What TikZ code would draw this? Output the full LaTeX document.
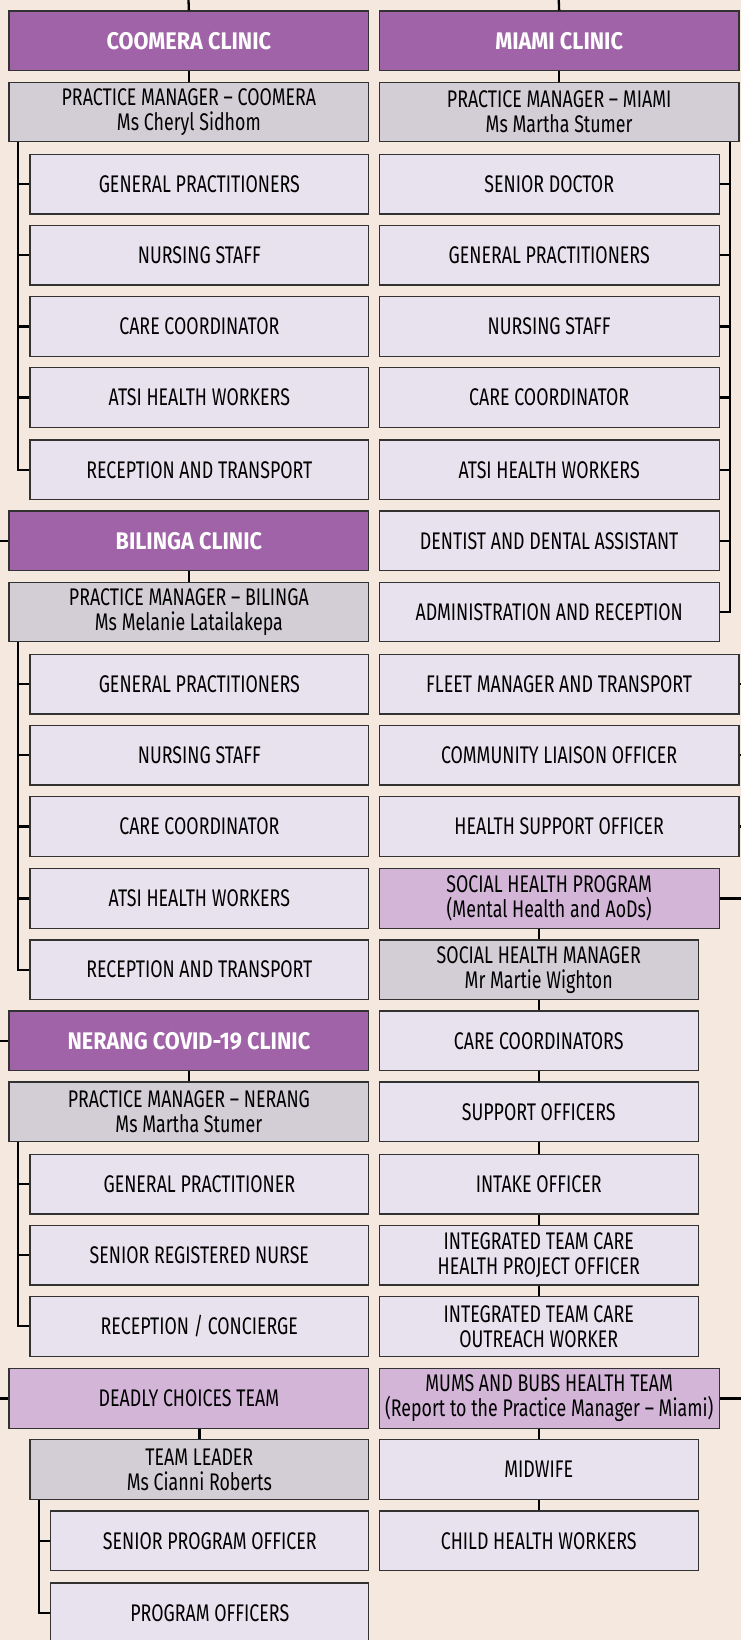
\documentclass[tikz,border=0pt]{standalone}
\usepackage{fontspec}
\setmainfont{Fira Sans}[FakeStretch=0.74]
\newfontfamily\clinicfont{Fira Sans}[FakeStretch=0.9]
\usetikzlibrary{positioning}
\definecolor{cBack}{RGB}{244,232,223}
\definecolor{cClinic}{RGB}{160,99,168}
\definecolor{cManager}{RGB}{211,206,213}
\definecolor{cStaff}{RGB}{232,225,238}
\definecolor{cProgram}{RGB}{211,181,216}
\definecolor{cLine}{RGB}{50,50,50}

\tikzset{
  unit/.style={draw=cLine, line width=1.2pt, inner sep=2pt, align=center,
    minimum height=57pt, anchor=north west, font=\fontsize{23}{24}\selectfont},
  clinic/.style={unit, fill=cClinic, text=white, minimum width=344pt,
    font=\fontsize{23}{24}\selectfont\clinicfont\bfseries},
  manager/.style={unit, fill=cManager},
  staff/.style={unit, fill=cStaff},
  program/.style={unit, fill=cProgram},
  link/.style={draw=black, line width=2.2pt},
}

\begin{document}
\begin{tikzpicture}[x=1pt, y=-1pt]
  \fill[cBack] (0,0) rectangle (708,1568);
  \useasboundingbox (0,0) rectangle (708,1568);

  % free ends running off the page
  \coordinate (inL) at (180,-6);
  \coordinate (inR) at (534,-6);
  \coordinate (feedL) at (-6,0);
  \coordinate (feedR) at (716,0);

  % left column
  \node[clinic] (coomera) at (8,10) {COOMERA CLINIC};
  \node[manager, minimum width=344pt] (pmcoo) at (8,78) {PRACTICE MANAGER – COOMERA\\Ms Cheryl Sidhom};
  \node[staff, minimum width=324pt] (cooGP) at (28,147) {GENERAL PRACTITIONERS};
  \node[staff, minimum width=324pt] (cooNS) at (28,215) {NURSING STAFF};
  \node[staff, minimum width=324pt] (cooCC) at (28,283) {CARE COORDINATOR};
  \node[staff, minimum width=324pt] (cooAT) at (28,351) {ATSI HEALTH WORKERS};
  \node[staff, minimum width=324pt] (cooRT) at (28,420) {RECEPTION AND TRANSPORT};

  \node[clinic] (bilinga) at (8,488) {BILINGA CLINIC};
  \node[manager, minimum width=344pt] (pmbil) at (8,556) {PRACTICE MANAGER – BILINGA\\Ms Melanie Latailakepa};
  \node[staff, minimum width=324pt] (bilGP) at (28,625) {GENERAL PRACTITIONERS};
  \node[staff, minimum width=324pt] (bilNS) at (28,693) {NURSING STAFF};
  \node[staff, minimum width=324pt] (bilCC) at (28,761) {CARE COORDINATOR};
  \node[staff, minimum width=324pt] (bilAT) at (28,830) {ATSI HEALTH WORKERS};
  \node[staff, minimum width=324pt] (bilRT) at (28,898) {RECEPTION AND TRANSPORT};

  \node[clinic] (nerang) at (8,966) {NERANG COVID-19 CLINIC};
  \node[manager, minimum width=344pt] (pmner) at (8,1034) {PRACTICE MANAGER – NERANG\\Ms Martha Stumer};
  \node[staff, minimum width=324pt] (nerGP) at (28,1103) {GENERAL PRACTITIONER};
  \node[staff, minimum width=324pt] (nerRN) at (28,1171) {SENIOR REGISTERED NURSE};
  \node[staff, minimum width=324pt] (nerRC) at (28,1239) {RECEPTION / CONCIERGE};

  \node[program, minimum width=344pt] (deadly) at (8,1308) {DEADLY CHOICES TEAM};
  \node[manager, minimum width=324pt] (leader) at (28,1376) {TEAM LEADER\\Ms Cianni Roberts};
  \node[staff, minimum width=304pt] (dcSPO) at (48,1444) {SENIOR PROGRAM OFFICER};
  \node[staff, minimum width=304pt] (dcPO) at (48,1513) {PROGRAM OFFICERS};

  % right column
  \node[clinic] (miami) at (362,10) {MIAMI CLINIC};
  \node[manager, minimum width=344pt] (pmmia) at (362,78) {PRACTICE MANAGER – MIAMI\\Ms Martha Stumer};
  \node[staff, minimum width=325pt] (miaSD) at (362,147) {SENIOR DOCTOR};
  \node[staff, minimum width=325pt] (miaGP) at (362,215) {GENERAL PRACTITIONERS};
  \node[staff, minimum width=325pt] (miaNS) at (362,283) {NURSING STAFF};
  \node[staff, minimum width=325pt] (miaCC) at (362,351) {CARE COORDINATOR};
  \node[staff, minimum width=325pt] (miaAT) at (362,420) {ATSI HEALTH WORKERS};
  \node[staff, minimum width=325pt] (miaDA) at (362,488) {DENTIST AND DENTAL ASSISTANT};
  \node[staff, minimum width=325pt] (miaAR) at (362,556) {ADMINISTRATION AND RECEPTION};

  \node[staff, minimum width=344pt] (fleet) at (362,625) {FLEET MANAGER AND TRANSPORT};
  \node[staff, minimum width=344pt] (liaison) at (362,693) {COMMUNITY LIAISON OFFICER};
  \node[staff, minimum width=344pt] (support) at (362,761) {HEALTH SUPPORT OFFICER};

  \node[program, minimum width=325pt] (social) at (362,830) {SOCIAL HEALTH PROGRAM\\(Mental Health and AoDs)};
  \node[manager, minimum width=305pt] (shmgr) at (362,898) {SOCIAL HEALTH MANAGER\\Mr Martie Wighton};
  \node[staff, minimum width=305pt] (shCC) at (362,966) {CARE COORDINATORS};
  \node[staff, minimum width=305pt] (shSO) at (362,1034) {SUPPORT OFFICERS};
  \node[staff, minimum width=305pt] (shIO) at (362,1103) {INTAKE OFFICER};
  \node[staff, minimum width=305pt] (shPO) at (362,1171) {INTEGRATED TEAM CARE\\HEALTH PROJECT OFFICER};
  \node[staff, minimum width=305pt] (shOW) at (362,1239) {INTEGRATED TEAM CARE\\OUTREACH WORKER};

  \node[program, minimum width=325pt] (mums) at (362,1308) {MUMS AND BUBS HEALTH TEAM\\(Report to the Practice Manager – Miami)};
  \node[staff, minimum width=305pt] (midwife) at (362,1376) {MIDWIFE};
  \node[staff, minimum width=305pt] (child) at (362,1444) {CHILD HEALTH WORKERS};

  % links coming in from outside
  \draw[link] (inL) -- (coomera.north);
  \draw[link] (inR) -- (miami.north);
  \draw[link] (bilinga.west) -- (bilinga.west -| feedL);
  \draw[link] (nerang.west) -- (nerang.west -| feedL);
  \draw[link] (deadly.west) -- (deadly.west -| feedL);
  \draw[link] (fleet.east) -- (fleet.east -| feedR);
  \draw[link] (liaison.east) -- (liaison.east -| feedR);
  \draw[link] (support.east) -- (support.east -| feedR);
  \draw[link] (social.east) -- (social.east -| feedR);
  \draw[link] (mums.east) -- (mums.east -| feedR);

  % clinic to manager
  \draw[link] (coomera.south) -- (pmcoo.north);
  \draw[link] (miami.south) -- (pmmia.north);
  \draw[link] (bilinga.south) -- (pmbil.north);
  \draw[link] (nerang.south) -- (pmner.north);
  \draw[link] (leader.north |- deadly.south) -- (leader.north);

  % staff trees
  \draw[link] ([xshift=9pt]pmcoo.south west) |- (cooGP.west);
  \draw[link] ([xshift=9pt]pmcoo.south west) |- (cooNS.west);
  \draw[link] ([xshift=9pt]pmcoo.south west) |- (cooCC.west);
  \draw[link] ([xshift=9pt]pmcoo.south west) |- (cooAT.west);
  \draw[link] ([xshift=9pt]pmcoo.south west) |- (cooRT.west);

  \draw[link] ([xshift=9pt]pmbil.south west) |- (bilGP.west);
  \draw[link] ([xshift=9pt]pmbil.south west) |- (bilNS.west);
  \draw[link] ([xshift=9pt]pmbil.south west) |- (bilCC.west);
  \draw[link] ([xshift=9pt]pmbil.south west) |- (bilAT.west);
  \draw[link] ([xshift=9pt]pmbil.south west) |- (bilRT.west);

  \draw[link] ([xshift=9pt]pmner.south west) |- (nerGP.west);
  \draw[link] ([xshift=9pt]pmner.south west) |- (nerRN.west);
  \draw[link] ([xshift=9pt]pmner.south west) |- (nerRC.west);

  \draw[link] ([xshift=9pt]leader.south west) |- (dcSPO.west);
  \draw[link] ([xshift=9pt]leader.south west) |- (dcPO.west);

  \draw[link] ([xshift=-9pt]pmmia.south east) |- (miaSD.east);
  \draw[link] ([xshift=-9pt]pmmia.south east) |- (miaGP.east);
  \draw[link] ([xshift=-9pt]pmmia.south east) |- (miaNS.east);
  \draw[link] ([xshift=-9pt]pmmia.south east) |- (miaCC.east);
  \draw[link] ([xshift=-9pt]pmmia.south east) |- (miaAT.east);
  \draw[link] ([xshift=-9pt]pmmia.south east) |- (miaDA.east);
  \draw[link] ([xshift=-9pt]pmmia.south east) |- (miaAR.east);

  % social health chain
  \draw[link] (shmgr.north |- social.south) -- (shmgr.north);
  \draw[link] (shmgr.south) -- (shCC.north);
  \draw[link] (shCC.south) -- (shSO.north);
  \draw[link] (shSO.south) -- (shIO.north);
  \draw[link] (shIO.south) -- (shPO.north);
  \draw[link] (shPO.south) -- (shOW.north);

  % mums and bubs chain
  \draw[link] (midwife.north |- mums.south) -- (midwife.north);
  \draw[link] (midwife.south) -- (child.north);
\end{tikzpicture}
\end{document}
